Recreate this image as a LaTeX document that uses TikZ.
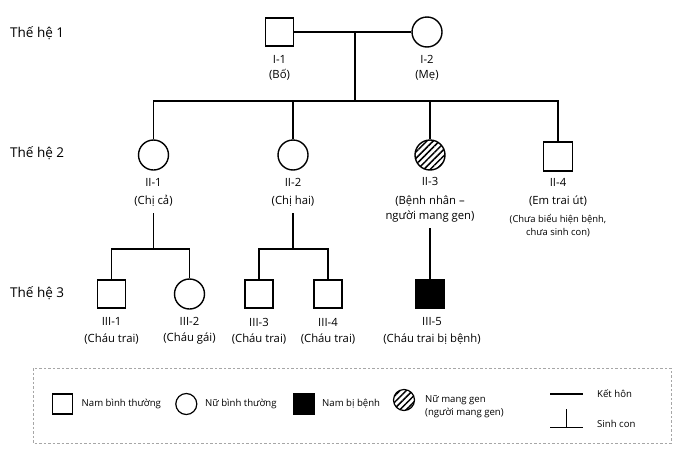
\documentclass[tikz,border=0pt]{standalone}
\usepackage{fontspec}
\setmainfont{Open Sans}
\usetikzlibrary{patterns.meta}

\tikzset{
  male/.style={draw, line width=1.4pt, minimum size=28pt, inner sep=0pt},
  female/.style={draw, circle, line width=1.4pt, minimum size=30pt, inner sep=0pt},
  carrier/.style={female, pattern={Lines[angle=45,distance=4.5pt,line width=1.5pt]}},
  sick/.style={male, fill=black},
  lbl/.style={align=center, inner sep=0pt, font=\fontsize{11.3}{15}\selectfont},
  gen/.style={anchor=west, inner sep=0pt, font=\fontsize{13.5}{15}\selectfont},
  legtxt/.style={anchor=west, inner sep=0pt, align=left, font=\fontsize{9.6}{13}\selectfont},
  link/.style={line width=1.4pt},
}

\begin{document}
\begin{tikzpicture}[x=1pt, y=-1pt]
    \useasboundingbox (0,0) rectangle (700,466);
    % generation labels
    \node[gen] (g1) at (10,33) {Thế hệ 1};
    \node[gen] (g2) at (10,153) {Thế hệ 2};
    \node[gen] (g3) at (10,293) {Thế hệ 3};
    % generation 1
    \node[male] (i1) at (279.5,32) {};
    \node[female] (i2) at (427,32) {};
    \node[lbl] (li1) at (279.5,67.5) {I-1\\(Bố)};
    \node[lbl] (li2) at (427,67.5) {I-2\\(Mẹ)};
    \draw[link] (i1) -- (i2);
    \coordinate (m1) at (355,32);
    \coordinate (sib) at (355,101);
    \draw[link] (m1) -- (sib);
    % generation 2
    \node[female] (ii1) at (153.5,155) {};
    \node[female] (ii2) at (293,155) {};
    \node[carrier] (ii3) at (430,155) {};
    \node[male, minimum size=29pt] (ii4) at (558,156.5) {};
    \draw[link] (ii1.north) |- (sib) -| (ii4.north);
    \draw[link] (ii2.north) -- (ii2.north |- sib);
    \draw[link] (ii3.north) -- (ii3.north |- sib);
    \node[lbl] (lii1) at (153.5,192.5) {II-1\\[3.5pt](Chị cả)};
    \node[lbl] (lii2) at (293,192.5) {II-2\\[3.5pt](Chị hai)};
    \node[lbl] (lii3) at (430,200) {II-3\\[3.5pt](Bệnh nhân –\\người mang gen)};
    \node[lbl] (lii4) at (558,192.5) {II-4\\[3.5pt](Em trai út)};
    \node[lbl, font=\fontsize{9.4}{12.7}\selectfont] (nii4) at (558,225.3) {(Chưa biểu hiện bệnh,\\chưa sinh con)};
    % generation 3
    \node[male] (iii1) at (111.6,294) {};
    \node[female] (iii2) at (189.5,294) {};
    \node[male] (iii3) at (259,294) {};
    \node[male] (iii4) at (328,294) {};
    \node[sick] (iii5) at (430,294) {};
    \coordinate (s21) at (153.5,213);
    \coordinate (c21) at (153.5,249);
    \coordinate (s22) at (293,213);
    \coordinate (c22) at (293,249);
    \coordinate (s23) at (430,228);
    \draw[link] (s21) -- (c21);
    \draw[link] (iii1.north) |- (c21) -| (iii2.north);
    \draw[link] (s22) -- (c22);
    \draw[link] (iii3.north) |- (c22) -| (iii4.north);
    \draw[link] (s23) -- (iii5.north);
    \node[lbl] (liii1) at (111.6,331) {III-1\\[1.3pt](Cháu trai)};
    \node[lbl] (liii2) at (189.5,331) {III-2\\[1.3pt](Cháu gái)};
    \node[lbl] (liii3) at (259,331) {III-3\\[1.3pt](Cháu trai)};
    \node[lbl] (liii4) at (328,331) {III-4\\[1.3pt](Cháu trai)};
    \node[lbl] (liii5) at (432,331) {III-5\\[1.3pt](Cháu trai bị bệnh)};
    % legend
    \draw[gray!70, line width=0.8pt, dash pattern=on 2.5pt off 2pt] (33,368) rectangle (671,443);
    \node[male, minimum size=20pt, line width=1.2pt] (k1) at (62.5,404) {};
    \node[legtxt] (t1) at (81.5,404) {Nam bình thường};
    \node[female, minimum size=21pt, line width=1.2pt] (k2) at (186.3,404) {};
    \node[legtxt] (t2) at (205,404) {Nữ bình thường};
    \node[sick, minimum size=21pt] (k3) at (304,404) {};
    \node[legtxt] (t3) at (322,404) {Nam bị bệnh};
    \node[carrier, minimum size=21pt, line width=1.2pt] (k4) at (404,400) {};
    \node[legtxt] (t4) at (425,406.5) {Nữ mang gen\\(người mang gen)};
    \coordinate (a1) at (550,394);
    \coordinate (a2) at (583,394);
    \draw[link] (a1) -- (a2);
    \node[legtxt] (t5) at (597,394) {Kết hôn};
    \coordinate (b1) at (550,427.7);
    \coordinate (b2) at (583,427.7);
    \coordinate (b3) at (566.7,409);
    \draw[link] (b1) -- (b2);
    \draw[link] (b3) -- (b3 |- b1);
    \node[legtxt] (t6) at (597,424) {Sinh con};
\end{tikzpicture}
\end{document}
